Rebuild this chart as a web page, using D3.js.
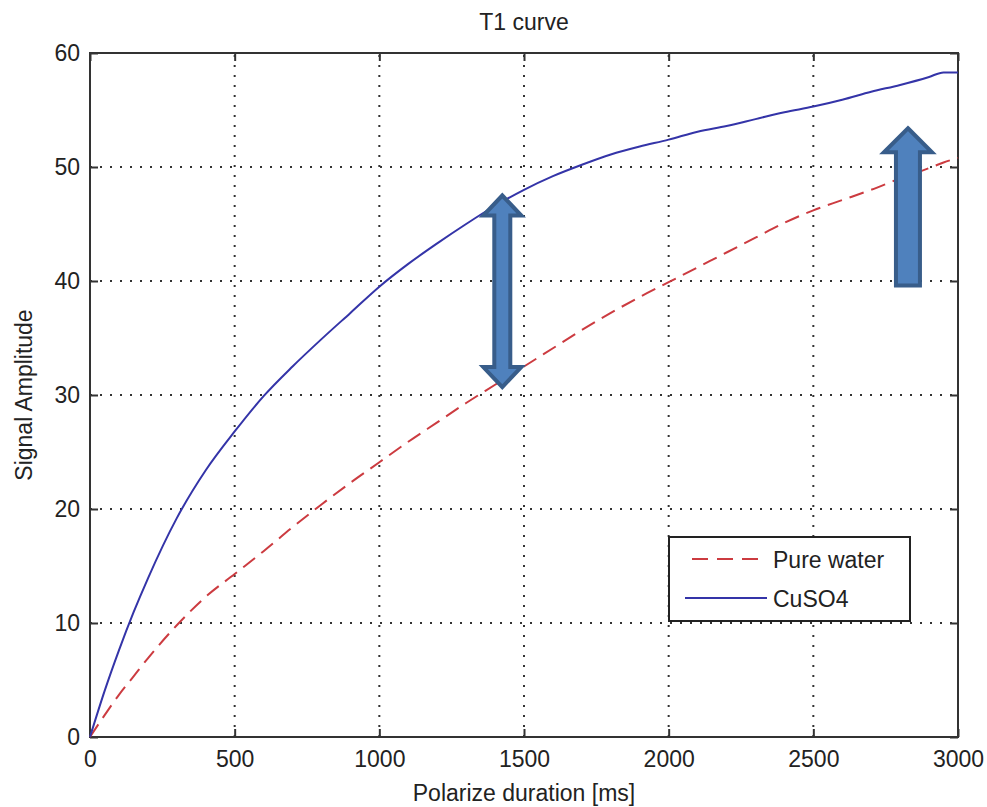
<!DOCTYPE html>
<html style="overflow:hidden;">
<head>
	<meta charset="utf-8">
	<script src="https://cdnjs.cloudflare.com/ajax/libs/d3/7.8.5/d3.min.js" charset="utf-8"></script>
	<style>
		body { margin:0; background:#fff; }
		text { font-family: "Liberation Sans", Arial, sans-serif; fill:#222; }
	</style>
</head>
<body>
<div id="chart"></div>
<script>
// data
var duration = [0, 50, 100, 150, 200, 300, 400, 500, 600, 700, 800, 900, 1000, 1100, 1200, 1300, 1400, 1500,
                1600, 1700, 1800, 1900, 2000, 2100, 2200, 2300, 2400, 2500, 2600, 2700, 2800, 2900, 2950, 3000];
var cuso4 = [0, 4, 7.6, 10.9, 13.9, 19.2, 23.4, 26.8, 29.9, 32.5, 34.9, 37.2, 39.5, 41.5, 43.3, 45, 46.6, 48,
             49.2, 50.2, 51.1, 51.8, 52.4, 53.1, 53.6, 54.2, 54.8, 55.3, 55.9, 56.6, 57.2, 57.9, 58.3, 58.3];
var pureWater = [0, 1.9, 3.7, 5.3, 6.9, 9.8, 12.3, 14.3, 16.3, 18.4, 20.4, 22.3, 24.1, 25.9, 27.6, 29.3, 30.9, 32.5,
                 34.1, 35.7, 37.2, 38.6, 39.9, 41.2, 42.5, 43.8, 45.1, 46.2, 47.1, 48.0, 49.0, 49.9, 50.4, 50.8];
var xTicks = [0, 500, 1000, 1500, 2000, 2500, 3000];
var yTicks = [0, 10, 20, 30, 40, 50, 60];
// annotation arrows in data units: [x, yFrom, yTo, doubleHeaded]
var arrows = [[1425, 30.7, 47.5, true], [2827, 39.6, 53.4, false]];

var width = 987, height = 807;
var margin = {top: 53, right: 29, bottom: 70, left: 90};

var svg = d3.select("#chart").append("svg")
    .attr("width", width)
    .attr("height", height);

var x = d3.scaleLinear().domain([0, 3000]).range([margin.left, width - margin.right]);
var y = d3.scaleLinear().domain([0, 60]).range([height - margin.bottom, margin.top]);
var fmt = d3.format("d");

// grid
svg.append("g").selectAll("line").data(xTicks.slice(1, -1)).enter().append("line")
    .attr("x1", d => x(d)).attr("x2", d => x(d))
    .attr("y1", y(0)).attr("y2", y(60))
    .style("stroke", "#333").style("stroke-width", 2).style("stroke-dasharray", "2,8");
svg.append("g").selectAll("line").data(yTicks.slice(1, -1)).enter().append("line")
    .attr("x1", x(0)).attr("x2", x(3000))
    .attr("y1", d => y(d)).attr("y2", d => y(d))
    .style("stroke", "#333").style("stroke-width", 2).style("stroke-dasharray", "2,8");

// axes (ticks inside, like matlab)
var tk = 8;
svg.append("g").attr("transform", "translate(0," + y(0) + ")")
    .call(d3.axisBottom(x).tickValues(xTicks).tickSize(-tk).tickPadding(14).tickFormat(fmt))
    .call(g => g.select(".domain").remove());
svg.append("g").attr("transform", "translate(0," + y(60) + ")")
    .call(d3.axisTop(x).tickValues(xTicks).tickSize(-tk).tickFormat(""))
    .call(g => g.select(".domain").remove());
svg.append("g").attr("transform", "translate(" + x(0) + ",0)")
    .call(d3.axisLeft(y).tickValues(yTicks).tickSize(-tk).tickPadding(10).tickFormat(fmt))
    .call(g => g.select(".domain").remove());
svg.append("g").attr("transform", "translate(" + x(3000) + ",0)")
    .call(d3.axisRight(y).tickValues(yTicks).tickSize(-tk).tickFormat(""))
    .call(g => g.select(".domain").remove());
svg.selectAll(".tick line").style("stroke", "#333").style("stroke-width", 2);
svg.selectAll(".tick text").style("font-size", "23px").style("font-family", "Liberation Sans, Arial, sans-serif").style("fill", "#222");

svg.append("rect")
    .attr("x", x(0)).attr("y", y(60))
    .attr("width", x(3000) - x(0)).attr("height", y(0) - y(60))
    .style("fill", "none").style("stroke", "#333").style("stroke-width", 2);

// curves
var line = d3.line().curve(d3.curveMonotoneX).x((d, i) => x(duration[i])).y(d => y(d));
svg.append("path").datum(pureWater).attr("d", line)
    .style("fill", "none").style("stroke", "#cc3b40").style("stroke-width", 2)
    .style("stroke-dasharray", "15,8");
svg.append("path").datum(cuso4).attr("d", line)
    .style("fill", "none").style("stroke", "#3434a8").style("stroke-width", 2);

// arrows
var headW = 19, shaftW = 8, headL = 20;
arrows.forEach(function(a) {
  var cx = x(a[0]), y1 = y(a[1]), y2 = y(a[2]);
  var p;
  if (a[3]) {
    p = [[cx, y2], [cx + headW, y2 + headL], [cx + shaftW, y2 + headL], [cx + shaftW, y1 - headL],
         [cx + headW, y1 - headL], [cx, y1], [cx - headW, y1 - headL], [cx - shaftW, y1 - headL],
         [cx - shaftW, y2 + headL], [cx - headW, y2 + headL]];
  } else {
    p = [[cx, y2], [cx + 24, y2 + 24], [cx + 12, y2 + 24], [cx + 12, y1],
         [cx - 12, y1], [cx - 12, y2 + 24], [cx - 24, y2 + 24]];
  }
  svg.append("path")
    .attr("d", "M" + p.map(q => q.join(",")).join("L") + "Z")
    .style("fill", "#4f81bd").style("stroke", "#385d8a").style("stroke-width", 4)
    .style("stroke-linejoin", "miter");
});

// legend
var lg = svg.append("g");
lg.append("rect").attr("x", 669).attr("y", 537).attr("width", 241).attr("height", 84)
    .style("fill", "#fff").style("stroke", "#222").style("stroke-width", 2);
lg.append("line").attr("x1", 692).attr("x2", 767).attr("y1", 559).attr("y2", 559)
    .style("stroke", "#cc3b40").style("stroke-width", 2).style("stroke-dasharray", "16,9");
lg.append("line").attr("x1", 685).attr("x2", 767).attr("y1", 598).attr("y2", 598)
    .style("stroke", "#3434a8").style("stroke-width", 2);
lg.append("text").attr("x", 773).attr("y", 568).style("font-size", "23px").text("Pure water");
lg.append("text").attr("x", 773).attr("y", 607).style("font-size", "23px").text("CuSO4");

// titles
svg.append("text").attr("x", (x(0) + x(3000)) / 2).attr("y", 30)
    .attr("text-anchor", "middle").style("font-size", "23px").text("T1 curve");
svg.append("text").attr("x", (x(0) + x(3000)) / 2).attr("y", 801)
    .attr("text-anchor", "middle").style("font-size", "23px").text("Polarize duration [ms]");
svg.append("text").attr("transform", "translate(32," + (y(30)) + ") rotate(-90)")
    .attr("text-anchor", "middle").style("font-size", "23px").text("Signal Amplitude");
</script>
</body>
</html>
